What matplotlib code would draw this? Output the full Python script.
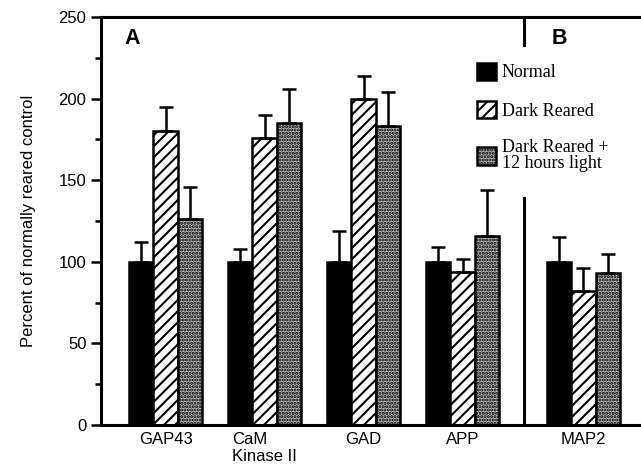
"""Bar chart: protein levels in dark reared vs normally reared animals."""

import matplotlib.pyplot as plt
import numpy as np
from matplotlib.patches import Patch

plt.rcParams["font.family"] = ["Liberation Sans", "DejaVu Sans"]
plt.rcParams["hatch.linewidth"] = 1.5

GENES = ["GAP43", "CaM\nKinase II", "GAD", "APP", "MAP2"]
SERIES = ["Normal", "Dark Reared", "Dark Reared +\n12 hours light"]

NORMAL = [100, 100, 100, 100, 100]
NORMAL_ERR = [12, 8, 19, 9, 15]
DARK = [180, 176, 200, 94, 82]
DARK_ERR = [15, 14, 14, 8, 14]
LIGHT = [126, 185, 183, 116, 93]
LIGHT_ERR = [20, 21, 21, 28, 12]

# group slots; MAP2 sits a little further right (panel B)
group_slot = np.array([0, 1, 2, 3, 4.22])
group_gap = 4.04
bar_width = 1.0
centers = 2.64 + group_slot * group_gap

fig = plt.figure(figsize=(6.41, 4.70), dpi=100)
ax = fig.add_axes([101 / 641, 45 / 470, 545 / 641, 408 / 470])

styles = [
    dict(facecolor="black", hatch=None),
    dict(facecolor="white", hatch="///"),
    dict(facecolor="#b8b8b8", hatch="....."),
]
values = [NORMAL, DARK, LIGHT]
errors = [NORMAL_ERR, DARK_ERR, LIGHT_ERR]

for idx, (vals, errs, style) in enumerate(zip(values, errors, styles)):
    xs = centers + (idx - 1) * bar_width
    ax.bar(
        xs,
        vals,
        width=bar_width,
        edgecolor="black",
        linewidth=1.8,
        zorder=2,
        **style,
    )
    ax.errorbar(
        xs,
        vals,
        yerr=[np.zeros(len(vals)), errs],
        fmt="none",
        ecolor="black",
        elinewidth=1.8,
        capsize=5,
        capthick=1.8,
        zorder=3,
    )

# divider between panel A and B
divider_x = 17.27
ax.plot([divider_x, divider_x], [0, 139], color="black", lw=2.2, zorder=1)
ax.plot([divider_x, divider_x], [233, 250], color="black", lw=2.2, zorder=1)

ax.text(0.95, 237, "A", fontsize=15.5, fontweight="bold", va="center")
ax.text(18.4, 237, "B", fontsize=15.5, fontweight="bold", va="center")

ax.set_xlim(0, 545 / 24.5)
ax.set_ylim(0, 250)
ax.set_yticks(np.arange(0, 251, 50))
ax.set_yticks(np.arange(25, 250, 50), minor=True)
ax.set_xticks(centers)
ax.set_xticklabels(GENES, fontsize=12, multialignment="left")
ax.tick_params(axis="x", length=0, pad=5)
ax.tick_params(axis="y", which="major", length=7, width=1.8, labelsize=12)
ax.tick_params(axis="y", which="minor", length=4, width=1.8)
ax.set_ylabel("Percent of normally reared control", fontsize=12, labelpad=16)

ax.spines["right"].set_visible(False)
for side in ["left", "top", "bottom"]:
    ax.spines[side].set_linewidth(2.2)

handles = [
    Patch(edgecolor="black", linewidth=1.8, **style) for style in styles
]
ax.legend(
    handles,
    SERIES,
    loc="upper left",
    bbox_to_anchor=(360 / 545, 0.928),
    frameon=False,
    handlelength=1.05,
    handleheight=1.1,
    handletextpad=0.3,
    labelspacing=1.07,
    prop={"family": "Liberation Serif", "size": 13},
)
for text in ax.get_legend().get_texts():
    text.set_linespacing(0.95)

fig.savefig("out.png", dpi=100)
